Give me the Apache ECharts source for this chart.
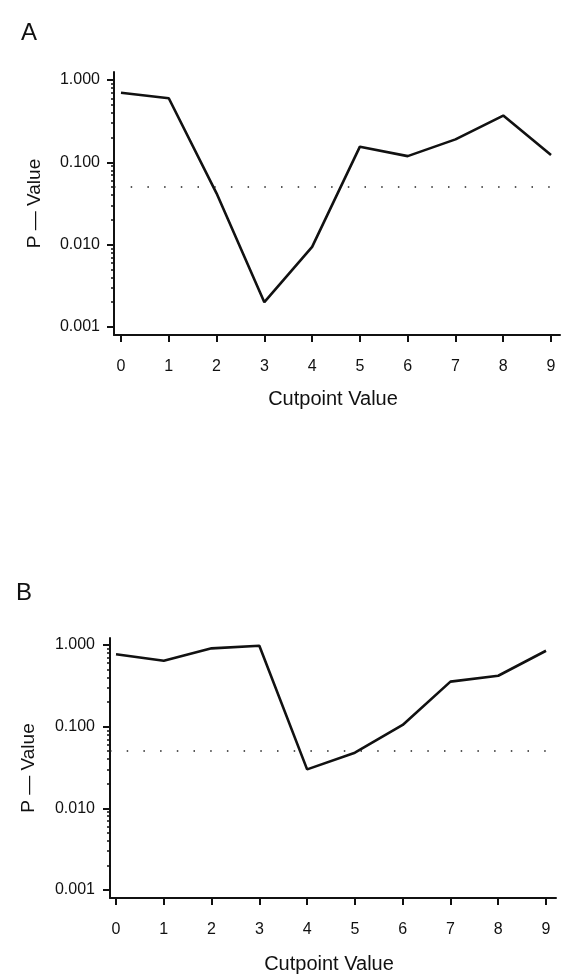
<!DOCTYPE html>
<html><head><meta charset="utf-8">
<script src="https://cdn.jsdelivr.net/npm/echarts@6/dist/echarts.min.js"></script>
<style>html,body{margin:0;padding:0;background:#fff}#c{width:562px;height:977px}</style>
</head><body><div id="c"></div>
<script>
const cutpoints = [0, 1, 2, 3, 4, 5, 6, 7, 8, 9];
const pValuesA = [0.70, 0.60, 0.042, 0.002, 0.0094, 0.155, 0.119, 0.19, 0.37, 0.123];
const pValuesB = [0.77, 0.64, 0.91, 0.98, 0.030, 0.048, 0.105, 0.356, 0.42, 0.85];
const yTickValues = [0.001, 0.01, 0.1, 1];
const yMinorTickValues = [0.002, 0.003, 0.004, 0.005, 0.006, 0.007, 0.008, 0.009,
  0.02, 0.03, 0.04, 0.05, 0.06, 0.07, 0.08, 0.09,
  0.2, 0.3, 0.4, 0.5, 0.6, 0.7, 0.8, 0.9];
const xTickValues = [0, 1, 2, 3, 4, 5, 6, 7, 8, 9];
const significance = 0.05;
const panelLabels = ['A', 'B'];
const xTitle = 'Cutpoint Value';
const yTitle = 'P — Value';

const FONT = 'Liberation Sans, Arial, Helvetica, sans-serif';
const INK = '#111';

const panels = [
  { grid: { left: 114, top: 72, width: 446, height: 263 }, xMin: -0.1465, xMax: 9.188, yMin: 0.000799, yMax: 1.251, data: pValuesA, labelMargin: 14, yNameGap: 70, xNameGap: 54 },
  { grid: { left: 110, top: 638, width: 446, height: 260 }, xMin: -0.1256, xMax: 9.209, yMin: 0.000798, yMax: 1.218, data: pValuesB, labelMargin: 15, yNameGap: 72, xNameGap: 56 }
];

const grid = [], xAxis = [], yAxis = [], series = [];
panels.forEach((p, i) => {
  grid.push(Object.assign({ containLabel: false }, p.grid));
  xAxis.push({
    type: 'value', gridIndex: i, min: p.xMin, max: p.xMax, position: 'bottom',
    name: xTitle, nameLocation: 'middle', nameGap: p.xNameGap,
    nameTextStyle: { fontFamily: FONT, fontSize: 20, color: INK, padding: [0, 8, 0, 0] },
    axisLine: { show: true, onZero: false, lineStyle: { color: INK, width: 2 } },
    axisTick: { show: true, length: 7, customValues: xTickValues, lineStyle: { color: INK, width: 2 } },
    axisLabel: { show: true, customValues: xTickValues, margin: 24, fontFamily: FONT, fontSize: 16, color: INK },
    splitLine: { show: false }
  });
  yAxis.push({
    type: 'log', logBase: 10, gridIndex: i, min: p.yMin, max: p.yMax, position: 'left',
    name: yTitle, nameLocation: 'middle', nameGap: p.yNameGap, nameRotate: 90,
    nameTextStyle: { fontFamily: FONT, fontSize: 19, color: INK },
    axisLine: { show: true, onZero: false, lineStyle: { color: INK, width: 2 } },
    axisTick: { show: true, length: 7, customValues: yTickValues, lineStyle: { color: INK, width: 2 } },
    axisLabel: { show: true, customValues: yTickValues, margin: p.labelMargin, fontFamily: FONT, fontSize: 16, color: INK,
      formatter: v => Number(v).toFixed(3) },
    splitLine: { show: false }
  });
  yAxis.push({
    type: 'log', logBase: 10, gridIndex: i, min: p.yMin, max: p.yMax, position: 'left', offset: 0,
    axisLine: { show: false, onZero: false },
    axisTick: { show: true, length: 3, customValues: yMinorTickValues, lineStyle: { color: INK, width: 1.5 } },
    axisLabel: { show: false },
    splitLine: { show: false }
  });
  series.push({
    type: 'line', xAxisIndex: i, yAxisIndex: i * 2,
    data: cutpoints.map((c, k) => [c, p.data[k]]),
    showSymbol: false, symbol: 'none',
    lineStyle: { color: INK, width: 2.6 },
    z: 3,
    markLine: {
      silent: true, symbol: 'none', label: { show: false },
      lineStyle: { color: '#222', width: 1.5, type: [1.5, 15.2] },
      data: [{ yAxis: significance }]
    }
  });
});

const chart = echarts.init(document.getElementById('c'), null, { renderer: 'canvas' });
chart.setOption({
  animation: false,
  backgroundColor: '#fff',
  title: [
    { text: panelLabels[0], left: 16, top: 16, textStyle: { fontFamily: FONT, fontSize: 24, fontWeight: 'normal', color: INK } },
    { text: panelLabels[1], left: 11, top: 576, textStyle: { fontFamily: FONT, fontSize: 24, fontWeight: 'normal', color: INK } }
  ],
  grid, xAxis, yAxis, series
});
</script>
</body></html>
